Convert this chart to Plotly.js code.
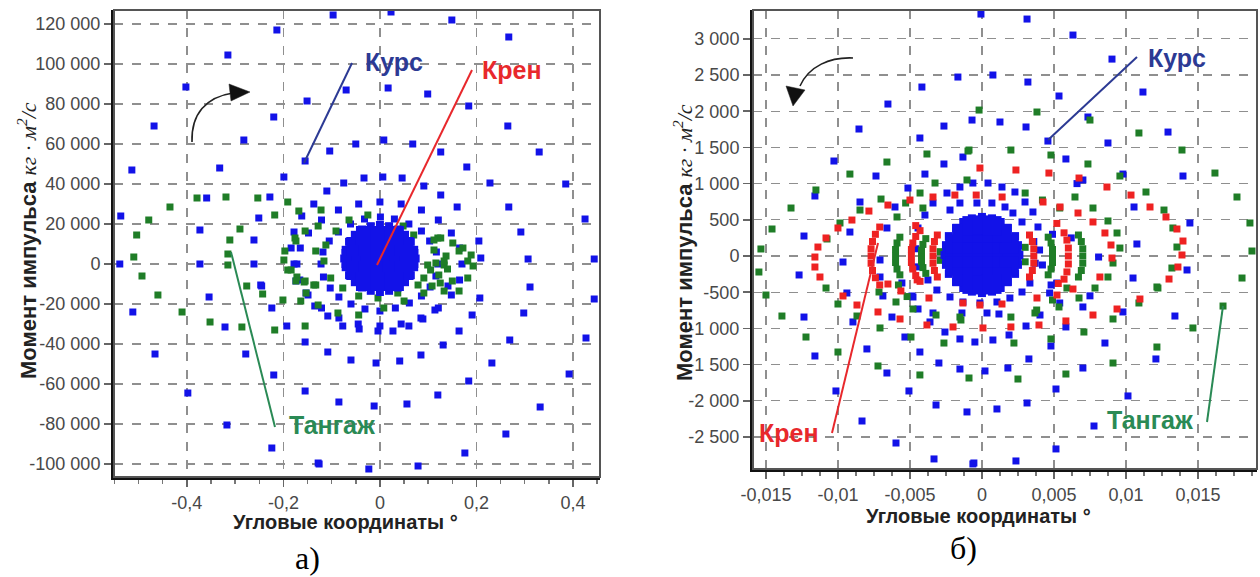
<!DOCTYPE html>
<html><head><meta charset="utf-8">
<script src="https://cdn.plot.ly/plotly-3.0.1.min.js"></script>
<style>html,body{margin:0;padding:0;background:#fff}#chart{width:1260px;height:577px}</style>
</head><body><div id="chart"></div>
<script>
// ===== Data: panel a) =====
const leftCourse = [
[-0.2135,117000],[-0.315,104500],[-0.402,88500],[-0.151,81500],[-0.220,73500],[-0.468,69000],[-0.282,62000],[-0.155,51500],[-0.514,47000],[-0.332,48000],[-0.199,43500],[-0.359,33000],[-0.228,33500],[-0.137,30000],[-0.537,24000],[-0.251,23000],[-0.162,24000],[-0.373,17000],[-0.261,12000],[-0.178,16000],[-0.539,0],[-0.373,0],[-0.261,0],[-0.178,0],[-0.184,8000],[-0.247,-10500],
[-0.512,-24000],[-0.466,-45000],[-0.398,-64500],[-0.354,-16500],[-0.321,-31500],[-0.278,-45000],[-0.317,-80500],[-0.245,-11000],[-0.224,-22000],[-0.193,-31000],[-0.220,-55500],[-0.224,-92000],[-0.155,-39000],[-0.155,-63500],[-0.153,-14500],[-0.135,-21000],[-0.128,-99500],[-0.174,-8500],
[-0.097,124500],[0.023,126000],[0.149,122000],[0.267,113500],[-0.070,87000],[0.017,88000],[0.099,85000],[0.184,79000],[0.265,69000],[-0.104,56500],[-0.050,60000],[0.008,62000],[0.068,60000],[0.126,56000],[0.180,48500],[0.330,56000],[0.228,40500],[0.385,40000],[-0.110,36500],[-0.075,40500],[-0.033,43000],[0.006,43500],[0.046,43000],[0.091,39000],[0.126,34500],[0.160,28500],[0.267,28500],[0.425,22500],[0.292,16000],[0.205,11500],[0.209,3000],[0.307,2500],[0.444,2500],
[0.207,-17000],[0.311,-11500],[0.444,-17500],[0.191,-25500],[0.298,-24500],[0.164,-33500],[0.269,-38000],[0.427,-37000],[0.131,-40500],[0.085,-45500],[0.041,-48500],[-0.008,-49500],[-0.060,-48000],[-0.108,-44000],[0.232,-49500],[0.184,-58500],[0.392,-55000],[0.120,-65500],[0.056,-70000],[-0.012,-71000],[-0.085,-69000],[0.332,-71500],[0.261,-85000],[0.176,-94500],[0.079,-101000],[-0.023,-102500],[-0.126,-100000],
[-0.043,-32500],[-0.004,-33500],[0.027,-33500],[0.060,-31000],[0.089,-27500],[0.114,-23000],[-0.077,-31000],[-0.108,-26000],[0.141,-11000],
[0.120,0],[0.117,6000],[0.103,11500],[0.086,16500],[0.060,20000],[0.030,22500],[0.001,23500],[-0.032,22500],[-0.061,20000],[-0.086,16000],[-0.105,11500],[-0.118,6000],[-0.122,0],[-0.117,-6500],[-0.103,-12000],[-0.085,-16500],[-0.060,-20000],[-0.031,-22500],[0.000,-23500],[0.032,-22000],[0.061,-19500],[0.086,-16000],[0.104,-11500],[0.116,-6000],
[0.170,0],[0.165,8000],[0.148,15500],[0.121,22000],[0.086,27000],[0.044,30000],[0.000,31000],[-0.044,30000],[-0.086,27000],[-0.121,22000],[-0.148,15500],[-0.165,8000],[-0.172,0],[-0.166,-8000],[-0.149,-15500],[-0.121,-22000],[-0.085,-27000],[-0.045,-30000],[0.000,-31000],[0.044,-30000],[0.085,-27000],[0.121,-22000],[0.148,-15500],[0.165,-8000]
];
const leftCourseEdge = [
[0.074,2750],[0.071,7100],[0.064,11100],[0.052,14600],[0.037,17250],[0.019,18900],[0,19500],[-0.019,18900],[-0.037,17250],[-0.052,14600],[-0.064,11100],[-0.071,7100],[-0.074,2750],[-0.071,-1600],[-0.064,-5600],[-0.052,-9100],[-0.037,-11750],[-0.019,-13400],[0,-14000],[0.019,-13400],[0.037,-11750],[0.052,-9100],[0.064,-5600],[0.071,-1600]
];
const leftCourseCore = [
[-0.06,2750],[-0.04,2750],[-0.02,2750],[0,2750],[0.02,2750],[0.04,2750],[0.06,2750],
[-0.05,8750],[-0.025,8750],[0,8750],[0.025,8750],[0.05,8750],
[-0.05,-3250],[-0.025,-3250],[0,-3250],[0.025,-3250],[0.05,-3250],
[-0.03,14250],[0,14250],[0.03,14250],[-0.03,-8750],[0,-8750],[0.03,-8750]
];
const leftPitch = [
[-0.191,31000],[-0.253,33000],[-0.319,33500],[-0.379,33000],[-0.435,28500],[-0.479,22000],[-0.504,14500],[-0.510,3500],[-0.493,-6000],[-0.290,17500],[-0.311,12000],[-0.315,5000],[-0.315,-500],[-0.218,24500],[-0.168,26500],[-0.155,16500],[-0.176,13000],[-0.197,6500],[-0.199,2000],[-0.184,-3000],[-0.172,-6500],[-0.157,-9000],[-0.137,-10500],[-0.128,19000],[-0.133,6500],
[-0.460,-15500],[-0.410,-24000],[-0.352,-29000],[-0.286,-31500],[-0.276,-11000],[-0.243,-15000],[-0.201,-18000],[-0.218,-33000],[-0.155,-31000],[-0.164,-18500],[-0.155,-8500],[-0.133,-10500],
[-0.122,27000],[-0.174,11500],[-0.191,-3000],[-0.174,-8500],[-0.153,-14500],[-0.128,-20500],[-0.087,-24500],[-0.044,-25500],[0.008,-22000],[0.050,-18500],[0.091,-14500],[0.133,-13500],[0.164,-13500],[0.182,-7000],[0.193,-1000],[0.189,4500],[0.172,8000],[0.151,10500],[0.120,13000],[0.112,7000],[0.116,500],[0.122,-5500],[0.133,-500],[0.137,4000],[0.099,-500],[0.091,-7000],[0.079,-10500],[0.070,14500],[0.048,19000],[-0.025,24500],[-0.064,22000],[-0.091,16500],[-0.112,9500],[-0.116,1500],[-0.102,-7000],[-0.077,-12000],[-0.044,-16000],[-0.004,-17000],[0.037,-14500],[0.058,7000],[0.064,1500],
[0.126,13000],[0.164,6500],[0.182,1500],[0.112,12000],[0.133,1500],[0.140,-2500],[0.105,-3000],[0.150,-8500],[0.125,-9500],[0.108,-11000]
];
const leftRoll = [[0,0],[0.01,2000],[-0.01,-1500]];
const leftXTicks = [-0.4,-0.2,0,0.2,0.4];
const leftXLabels = ['-0,4','-0,2','0','0,2','0,4'];
const leftYTicks = [-100000,-80000,-60000,-40000,-20000,0,20000,40000,60000,80000,100000,120000];
const leftYLabels = ['-100 000','-80 000','-60 000','-40 000','-20 000','0','20 000','40 000','60 000','80 000','100 000','120 000'];

// ===== Data: panel б) =====
const rightCourse = [
[-0.00167,2472],[-0.00417,2334],[-0.00653,2099],[-0.00854,1754],[-0.00431,1630],[-0.00264,1795],[-0.00069,1878],[-0.01028,1312],[-0.00736,1105],[-0.00396,1132],[-0.00264,1271],[-0.00132,1367],[-0.00514,939],[-0.0116,829],[-0.00847,746],[-0.00604,677],[-0.01236,276],[-0.00917,331],[-0.0066,387],[-0.00965,-83],[-0.0127,-262],
[-0.00007,3342],[0.00313,3273],[0.00632,3052],[0.00903,2720],[0.00076,2500],[0.00319,2403],[0.01118,2265],[0.00535,2210],[0.00736,1920],[0.00125,1851],[0.00306,1782],[0.01292,1712],[0.00458,1588],[0.00875,1561],[0.00583,1340],[0.00979,1132],[0.01396,1105],[0.00701,1050],[0.01056,677],[0.01444,456],[0.01076,166],[0.01424,-193],[0.01049,-304],
[-0.01236,-843],[-0.0116,-1381],[-0.01014,-1864],[-0.00833,-2279],[-0.00597,-2583],[-0.00333,-2803],[-0.00056,-2859],[-0.00799,-1284],[-0.0066,-1616],[-0.00507,-1864],[-0.00319,-2058],[-0.00104,-2154],[-0.00896,-911],[-0.00938,-511],[-0.00535,-1119],[-0.00431,-1326],[-0.00299,-1478],[-0.00153,-1561],[-0.00625,-843],[-0.00688,-552],[-0.00486,-552],[-0.00444,-732],[-0.00257,-1050],[-0.00153,-1146],[-0.00049,-1188],[-0.00361,-911],
[-0.00063,-2872],[0.00236,-2831],[0.00514,-2665],[0.00778,-2348],[0.01014,-1933],[0.01208,-1422],[0.0134,-829],[0.00104,-2113],[0.00313,-2030],[0.00514,-1837],[0.00701,-1547],[0.00854,-1202],[0.00979,-773],[0.00021,-1588],[0.0018,-1547],[0.00326,-1422],[0.00479,-1243],[0.00583,-980],[0.00701,-704],[0.00076,-1160],[0.00188,-1091],[0.00306,-967],[0.00403,-815],[-0.00139,-787],[0.00035,-787],[0.00118,-801],
[-0.00243,870],[-0.00153,953],[-0.00063,1008],[0.00042,1008],[0.00139,953],[0.00229,884],[0.00299,746],[0.00354,608],[-0.0034,732],[-0.00396,566],[-0.00444,387],[-0.00222,635],[-0.00153,732],[-0.00035,732],[0.00069,732],[0.0016,677],[0.00215,594],[0.00278,470],[0.00389,401],[-0.00222,-566],[-0.00132,-635],[-0.00014,-649],[0.00104,-635],[0.00194,-580],[0.00278,-497],[0.00333,-373],[-0.00313,-470],[-0.00375,-331],[-0.0034,-787],[-0.00479,-566],[-0.00556,-373],[-0.00708,-290],[-0.00708,-55],[-0.0046,100],[-0.0045,-150],[0.0036,200],[0.0037,-100],[0.0048,-400],[0.0049,300],
[0.004,83],[0.0042,-124],[0.0052,-373],[0.0047,-511],[0.0054,-649],[0.0081,-14],[0.0066,1000],[0.0062,250],[0.0075,-550]
];
const rightCourseEdge = [
[0.0026,14],[0.0025,150],[0.0023,275],[0.0018,385],[0.0013,470],[0.0007,520],[0,540],[-0.0007,520],[-0.0013,470],[-0.0018,385],[-0.0023,275],[-0.0025,150],[-0.0026,14],[-0.0025,-122],[-0.0023,-247],[-0.0018,-357],[-0.0013,-442],[-0.0007,-492],[0,-512],[0.0007,-492],[0.0013,-442],[0.0018,-357],[0.0023,-247],[0.0025,-122]
];
const rightCourseCore = [
[-0.0021,14],[-0.0014,14],[-0.0007,14],[0,14],[0.0007,14],[0.0014,14],[0.0021,14],
[-0.0019,164],[-0.0014,164],[-0.0007,164],[0,164],[0.0007,164],[0.0014,164],[0.0019,164],
[-0.0019,-136],[-0.0014,-136],[-0.0007,-136],[0,-136],[0.0007,-136],[0.0014,-136],[0.0019,-136],
[-0.0014,314],[-0.0007,314],[0,314],[0.0007,314],[0.0014,314],
[-0.0014,-286],[-0.0007,-286],[0,-286],[0.0007,-286],[0.0014,-286],
[-0.0007,420],[0,430],[0.0007,420],[-0.0007,-392],[0,-400],[0.0007,-392]
];
const rightPitch = [
[-0.0002,2016],[-0.00097,1450],[-0.00382,1409],[-0.0066,1298],[-0.00917,1132],[-0.01153,912],[-0.01326,663],[-0.01458,373],[-0.01535,97],[-0.01549,-221],[-0.00701,787],[-0.00986,456],[-0.01076,235],[-0.00847,635],[-0.00326,1008],[-0.00104,1050],[-0.0041,663],
[0.00382,1989],[0.0075,1878],[0.0109,1699],[0.01389,1464],[0.01618,1146],[0.01771,815],[0.01861,456],[0.01875,69],[0.01806,-304],[-0.0009,1464],[0.00201,1464],[0.00479,1395],[0.00736,1271],[0.00958,1105],[0.01139,884],[0.01264,635],[0.01326,387],[0.01354,124],[0.01319,-166],[0.01215,-428],[0.00646,815],[0.00771,663],[0.00875,484],[0.00938,318],[0.00958,110],[0.00875,-290],[0.0091,-97],
[-0.015,-539],[-0.01389,-829],[-0.01222,-1119],[-0.01,-1326],[-0.00722,-1519],[-0.00431,-1643],[-0.0009,-1685],[-0.01083,-442],[-0.01,-663],[-0.00868,-829],[-0.00708,-994],[-0.00493,-1119],[-0.00264,-1202],[-0.00715,-497],[-0.00597,-635],[-0.00479,-732],[-0.00319,-815],[-0.00153,-843],
[0.01674,-691],[0.01465,-994],[0.01215,-1257],[0.0091,-1478],[0.00583,-1630],[0.0025,-1699],[0.0109,-649],[0.0091,-870],[0.00708,-1050],[0.00479,-1146],[0.00222,-1202],[0.01222,-442],[0.00785,-442],[0.00674,-580],[0.00535,-704],[0.00368,-787],[0.00201,-843],[-0.00146,-884],
[-0.0043,870],[-0.0053,732],[-0.0059,539],[0.0038,-746],[0.0049,-608],[0.0059,-442],[0.0054,663],[0.0042,773],[0.003,870],[-0.0058,-400],[-0.0052,-560],
[-0.0042,0],[-0.0042,80],[-0.0041,160],[-0.0039,240],[-0.0042,-80],[-0.0041,-160],[-0.0039,-240],
[-0.006,0],[-0.006,90],[-0.0059,180],[-0.0057,260],[-0.006,-90],[-0.0059,-180],[-0.0057,-260],
[0.0049,0],[0.0049,90],[0.0048,180],[0.0046,260],[0.0049,-90],[0.0048,-180],[0.0046,-260],
[0.007,0],[0.007,100],[0.0069,200],[0.0067,290],[0.007,-100],[0.0069,-200],[0.0067,-290],
[-0.0029,60],[-0.0029,-60],[0.003,120],[0.003,-80]
];
const rightRoll = [
[-0.00785,621],[-0.00903,497],[-0.01,387],[-0.01083,249],[-0.01139,124],[-0.0116,-14],[-0.0116,-152],[-0.01125,-290],[-0.00653,704],[-0.005,773],[-0.0034,815],[-0.00188,842],[-0.00014,1215],
[0.00236,1188],[0.00465,1146],[0.00674,1077],[0.00868,953],[0.01035,842],[0.01167,677],[0.01278,539],[0.01354,373],[0.01396,207],[0.01389,14],[0.01361,-152],[0.01299,-318],[0.00424,746],[0.00542,677],[0.00667,594],[0.00771,470],[0.00854,318],[0.00896,152],[0.00903,-28],[0.00819,-290],
[-0.00965,-552],[-0.00868,-677],[-0.00722,-773],[-0.00569,-870],[-0.00382,-953],[-0.00201,-980],[-0.00653,-387],[-0.00563,-483],[-0.00368,-580],[-0.00132,-649],
[0.01097,-594],[0.00938,-732],[0.00771,-815],[0.00583,-897],[0.00396,-953],[0.00201,-980],[0.00007,-994],[0.00632,-456],[0.00521,-539],[0.00382,-580],[0.00139,-663],[-0.00014,-677],
[-0.0004,842],[0.0014,815],[-0.0046,420],[-0.0045,-330],[0.0052,450],[0.0053,-380],
[-0.0077,0],[-0.0077,100],[-0.0076,200],[-0.0074,300],[-0.0071,400],[-0.0077,-100],[-0.0076,-200],[-0.0074,-300],[-0.0071,-400],
[-0.0049,0],[-0.0049,90],[-0.0048,180],[-0.0046,270],[-0.0043,350],[-0.0049,-90],[-0.0048,-180],[-0.0046,-270],[-0.0043,-350],
[-0.0034,0],[-0.0034,100],[-0.0033,200],[-0.0031,290],[-0.0034,-100],[-0.0033,-200],[-0.0031,-290],
[0.0036,0],[0.0036,100],[0.0035,200],[0.0033,290],[0.0036,-100],[0.0035,-200],[0.0033,-290],
[0.006,0],[0.006,110],[0.0059,220],[0.0057,320],[0.006,-110],[0.0059,-220],[0.0057,-320]
];
const rightXTicks = [-0.015,-0.01,-0.005,0,0.005,0.01,0.015];
const rightXLabels = ['-0,015','-0,01','-0,005','0','0,005','0,01','0,015'];
const rightYTicks = [-2500,-2000,-1500,-1000,-500,0,500,1000,1500,2000,2500,3000];
const rightYLabels = ['-2 500','-2 000','-1 500','-1 000','-500','0','500','1 000','1 500','2 000','2 500','3 000'];

const seriesNames = {course:'Курс', pitch:'Тангаж', roll:'Крен'};

// ===== Styles =====
const BLUE='#1212e8', GREEN='#1f7d27', RED='#ee2222';
const W=1260, H=577;
const px = x => x/W, py = y => 1 - y/H;

function tr(pts, color, size, xa, ya, name){
  return {type:'scatter', mode:'markers', name, x:pts.map(p=>p[0]), y:pts.map(p=>p[1]), xaxis:xa, yaxis:ya,
    marker:{symbol:'square', size, color, line:{width:0}}, hoverinfo:'x+y'};
}
const traces = [
  tr(leftCourse, BLUE, 7, 'x','y', seriesNames.course),
  tr(leftPitch, GREEN, 7, 'x','y', seriesNames.pitch),
  tr(leftRoll, RED, 7, 'x','y', seriesNames.roll),
  tr(leftCourseEdge, BLUE, 8, 'x','y', seriesNames.course),
  tr(leftCourseCore, BLUE, 19, 'x','y', seriesNames.course),
  tr(rightCourse, BLUE, 7, 'x2','y2', seriesNames.course),
  tr(rightPitch, GREEN, 7, 'x2','y2', seriesNames.pitch),
  tr(rightRoll, RED, 7, 'x2','y2', seriesNames.roll),
  tr(rightCourseEdge, BLUE, 8, 'x2','y2', seriesNames.course),
  tr(rightCourseCore, BLUE, 19, 'x2','y2', seriesNames.course)
];

const tickFont = {family:'Liberation Sans, Arial, sans-serif', size:18, color:'#484848'};
function axis(extra){
  return Object.assign({showgrid:true, gridcolor:'#8f8f8f', gridwidth:1.3, griddash:'dash', zeroline:false,
    showline:true, linecolor:'#111', linewidth:3, mirror:false, ticks:'outside', ticklen:7, tickwidth:1.5, tickcolor:'#666',
    tickfont:tickFont, tickmode:'array', fixedrange:true}, extra);
}
const layout = {
  width:W, height:H, margin:{l:0,r:0,t:0,b:0}, paper_bgcolor:'#fff', plot_bgcolor:'#fff', showlegend:false,
  xaxis: axis({domain:[px(114),px(600)], range:[-0.551,0.456], tickvals:leftXTicks, ticktext:leftXLabels, anchor:'y',
    minor:{dtick:0.05, tick0:0, ticks:'outside', ticklen:4, tickcolor:'#777', showgrid:false}}),
  yaxis: axis({domain:[py(477),py(10)], range:[-106500,127000], tickvals:leftYTicks, ticktext:leftYLabels, anchor:'x'}),
  xaxis2: axis({domain:[px(753),px(1257)], range:[-0.0159,0.0191], tickvals:rightXTicks, ticktext:rightXLabels, anchor:'y2',
    minor:{dtick:0.00125, tick0:0, ticks:'outside', ticklen:4, tickcolor:'#777', showgrid:false}}),
  yaxis2: axis({domain:[py(469),py(10)], range:[-2942,3398], tickvals:rightYTicks, ticktext:rightYLabels, anchor:'x2'}),
  shapes:[], annotations:[]
};

// frames
layout.shapes.push({type:'rect', xref:'x domain', yref:'y domain', x0:0,x1:1,y0:0,y1:1, line:{color:'#555',width:2}, layer:'above'});
layout.shapes.push({type:'rect', xref:'x2 domain', yref:'y2 domain', x0:0,x1:1,y0:0,y1:1, line:{color:'#555',width:2}, layer:'above'});
function pline(x0,y0,x1,y1,color){
  layout.shapes.push({type:'line', xref:'paper', yref:'paper', x0:px(x0), y0:py(y0), x1:px(x1), y1:py(y1), line:{color, width:2}, layer:'above'});
}
const NAVY='#2c3a94', LRED='#e8282c', TEAL='#2a8a55';
pline(352,63,304,163,NAVY);
pline(472,70,377,265,LRED);
pline(231,252,275,427,TEAL);
pline(1137,57,1048,140,NAVY);
pline(832,433,878,243,LRED);
pline(1207,422,1223,306,TEAL);
function ppath(d, fill){
  const s = d.replace(/(-?\d+(?:\.\d+)?),(-?\d+(?:\.\d+)?)/g, (m,a,b)=> px(+a).toFixed(5)+','+py(+b).toFixed(5));
  layout.shapes.push({type:'path', xref:'paper', yref:'paper', path:s, line:{color:'#222', width:fill?0.5:1.6}, fillcolor: fill? '#111':'rgba(0,0,0,0)', layer:'above'});
}
ppath('M192,142 C191,114 206,97 233,93', false);
ppath('M250,92 L229,84 L231,101 Z', true);
ppath('M853,58 C830,57 809,66 800,86', false);
ppath('M793,106 L786,86 L805,90 Z', true);

function ann(text, x, y, size, color, extra){
  layout.annotations.push(Object.assign({text, xref:'paper', yref:'paper', x:px(x), y:py(y), showarrow:false,
    xanchor:'center', yanchor:'middle', font:{family:'Liberation Sans, Arial, sans-serif', size, color}}, extra||{}));
}
ann('<b>Курс</b>', 394, 62, 25, NAVY);
ann('<b>Крен</b>', 512, 70, 25, LRED);
ann('<b>Тангаж</b>', 332, 425, 25, TEAL);
ann('<b>Курс</b>', 1177, 58, 25, NAVY);
ann('<b>Крен</b>', 789, 433, 25, LRED);
ann('<b>Тангаж</b>', 1150, 420, 25, TEAL);
ann('<b>Угловые координаты °</b>', 345, 522, 20, '#222');
ann('<b>Угловые координаты °</b>', 978, 516, 20, '#222');
const ytitle = '<b>Момент импульса</b> <span style="font-family:Liberation Serif;font-style:italic;font-weight:normal">кг · м<sup>2</sup>/с</span>';
ann(ytitle, 27, 241, 22, '#222', {textangle:-90});
ann(ytitle, 683, 243, 22, '#222', {textangle:-90});
ann('а)', 307, 558, 32, '#000', {font:{family:'Liberation Serif, Times New Roman, serif', size:32, color:'#000'}});
ann('б)', 964, 548, 32, '#000', {font:{family:'Liberation Serif, Times New Roman, serif', size:32, color:'#000'}});

Plotly.newPlot('chart', traces, layout, {displayModeBar:false, staticPlot:true});
</script></body></html>
